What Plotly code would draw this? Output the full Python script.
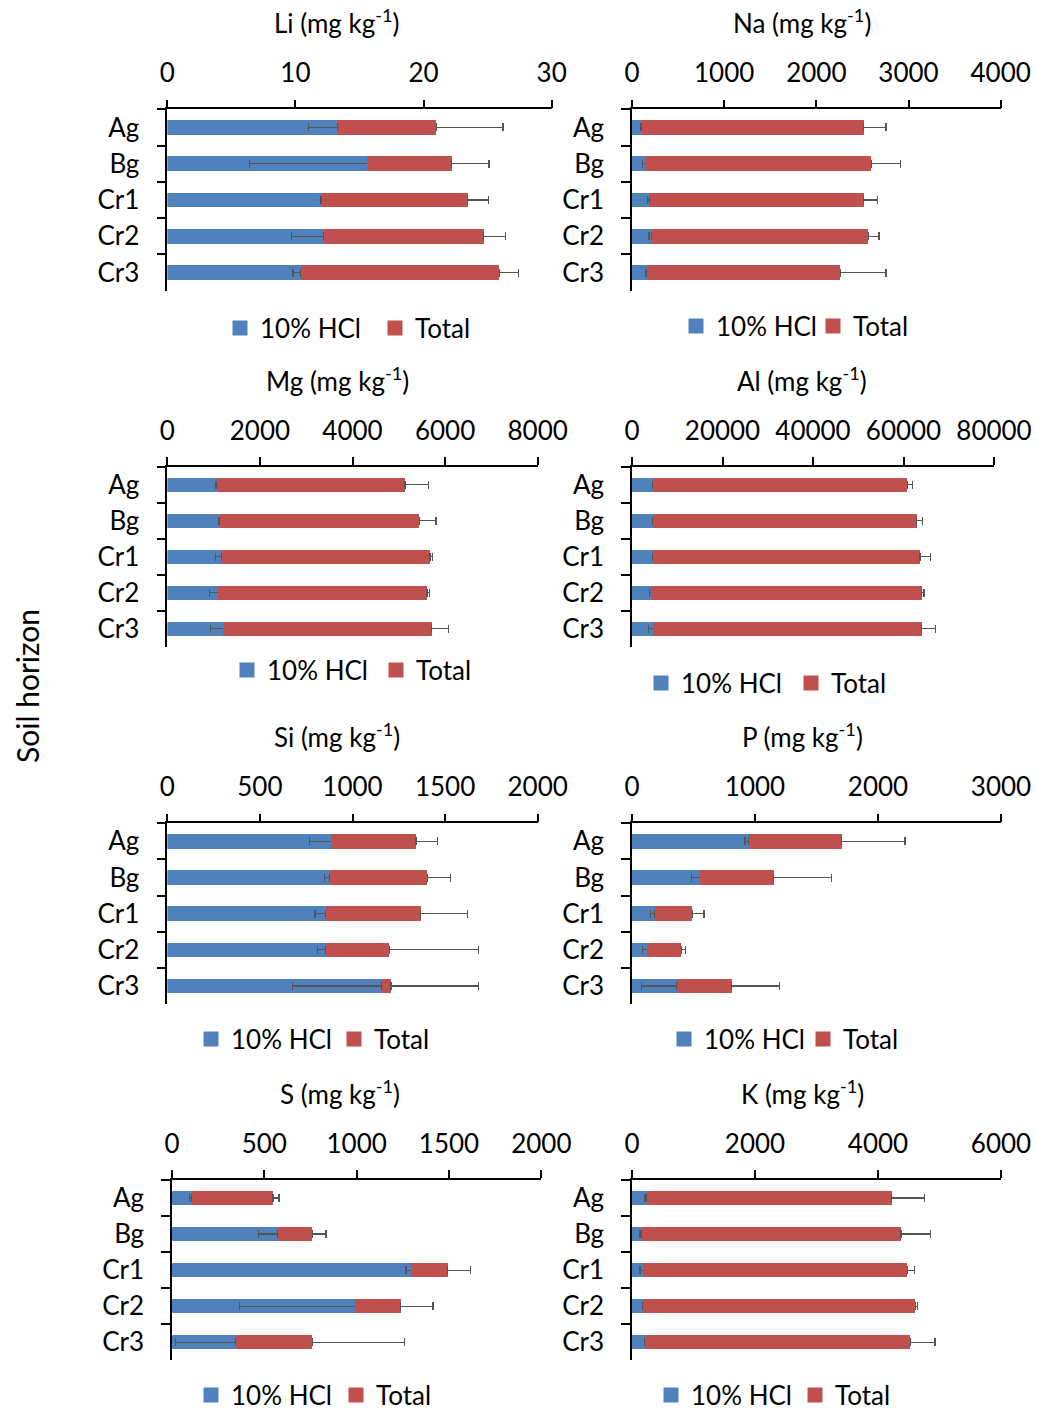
import plotly.graph_objects as go

horizons = ["Ag", "Bg", "Cr1", "Cr2", "Cr3"]

li_hcl = [13.3, 15.6, 12.05, 12.2, 10.4]
li_hcl_err = [2.3, 9.2, 0.1, 2.5, 0.6]
li_tot = [7.7, 6.6, 11.4, 12.5, 15.5]
li_tot_err = [5.2, 2.9, 1.6, 1.7, 1.5]

na_hcl = [108, 145, 195, 213, 159]
na_hcl_err = [10, 29, 25, 29, 7]
na_tot = [2405, 2452, 2318, 2351, 2101]
na_tot_err = [243, 318, 149, 116, 496]

mg_hcl = [1073, 1130, 1174, 1102, 1210]
mg_hcl_err = [29, 20, 130, 195, 274]
mg_tot = [4060, 4313, 4499, 4507, 4499]
mg_tot_err = [504, 360, 58, 50, 367]

al_hcl = [4715, 4715, 4715, 4273, 4715]
al_hcl_err = [221, 221, 221, 442, 1105]
al_tot = [56132, 58195, 58931, 59742, 59300]
al_tot_err = [1179, 1326, 2358, 515, 3020]

si_hcl = [886, 877, 855, 855, 1158]
si_hcl_err = [117, 29, 58, 43, 481]
si_tot = [457, 527, 513, 344, 50]
si_tot_err = [117, 124, 252, 481, 472]

p_hcl = [951, 556, 187, 125, 363]
p_hcl_err = [32, 71, 35, 38, 287]
p_tot = [754, 596, 304, 276, 447]
p_tot_err = [515, 471, 94, 33, 391]

s_hcl = [106, 574, 1296, 993, 345]
s_hcl_err = [12, 107, 29, 627, 327]
s_tot = [441, 186, 197, 245, 415]
s_tot_err = [32, 74, 123, 175, 500]

k_hcl = [244, 163, 184, 184, 217]
k_hcl_err = [33, 33, 54, 16, 11]
k_tot = [3978, 4211, 4293, 4423, 4309]
k_tot_err = [531, 477, 119, 38, 401]

elements = ["Li", "Na", "Mg", "Al", "Si", "P", "S", "K"]
hcl_vals = [li_hcl, na_hcl, mg_hcl, al_hcl, si_hcl, p_hcl, s_hcl, k_hcl]
hcl_errs = [li_hcl_err, na_hcl_err, mg_hcl_err, al_hcl_err, si_hcl_err, p_hcl_err, s_hcl_err, k_hcl_err]
tot_vals = [li_tot, na_tot, mg_tot, al_tot, si_tot, p_tot, s_tot, k_tot]
tot_errs = [li_tot_err, na_tot_err, mg_tot_err, al_tot_err, si_tot_err, p_tot_err, s_tot_err, k_tot_err]
axis_max = [30, 4000, 8000, 80000, 2000, 3000, 2000, 6000]
axis_dtick = [10, 1000, 2000, 20000, 500, 1000, 500, 2000]

W, H = 1037, 1411
FONT = "Lato"
FS = 26
BLUE = "#4F81BD"
RED = "#C0504D"
ERR = "#555555"

# plot areas in pixels: (x0, x1, y0, y1)
boxes = [
    (167.3, 551.7, 109.3, 290.7), (632, 1000.7, 109.3, 290.7),
    (167.3, 537.7, 466.7, 646.7), (632, 994, 466.7, 646.7),
    (167.3, 537.7, 823.3, 1004), (632, 1001, 823.3, 1004),
    (172, 541.3, 1180, 1360.3), (632, 1001, 1180, 1360.3),
]
title_pos = [(337, 22), (802, 22), (337, 380), (802, 380),
             (337, 736), (802, 736), (340, 1092), (802, 1092)]
legend_pos = [(232, 328), (688, 326), (239, 670), (653, 683),
              (203, 1039), (676, 1039), (203, 1395), (663, 1395)]
legend_step = [150, 132, 144, 145, 138, 134, 140, 139]

fig = go.Figure()
layout = dict(
    width=W, height=H, autosize=False,
    margin=dict(l=0, r=0, t=0, b=0, pad=0, autoexpand=False),
    paper_bgcolor="white", plot_bgcolor="white",
    barmode="stack", bargap=0.6,
    font=dict(family=FONT, size=FS, color="black"),
    annotations=[], showlegend=True,
)

for i, el in enumerate(elements):
    n = "" if i == 0 else str(i + 1)
    xa, ya = "x" + n, "y" + n
    lg = "legend" if i == 0 else "legend" + str(i + 1)
    fig.add_trace(go.Bar(
        y=horizons, x=hcl_vals[i], orientation="h", name="10% HCl",
        marker=dict(color=BLUE, line=dict(width=0)),
        error_x=dict(type="data", symmetric=False, array=[0] * 5,
                     arrayminus=hcl_errs[i], color=ERR, thickness=1.3, width=4),
        xaxis=xa, yaxis=ya, showlegend=False,
    ))
    fig.add_trace(go.Bar(
        y=horizons, x=tot_vals[i], orientation="h", name="Total",
        marker=dict(color=RED, line=dict(width=0)),
        error_x=dict(type="data", symmetric=False, array=tot_errs[i],
                     arrayminus=[0] * 5, color=ERR, thickness=1.3, width=4),
        xaxis=xa, yaxis=ya, showlegend=False,
    ))
    # legend-only entries with larger square swatches
    for nm, col in (("10% HCl", BLUE), ("Total", RED)):
        fig.add_trace(go.Scatter(
            x=[None], y=[None], mode="markers", name=nm,
            marker=dict(symbol="square", size=15, color=col),
            xaxis=xa, yaxis=ya, legend=lg, showlegend=True, hoverinfo="skip",
        ))
    x0, x1, y0, y1 = boxes[i]
    layout["xaxis" + n] = dict(
        domain=[x0 / W, x1 / W], anchor=ya, side="top", automargin=False,
        range=[0, axis_max[i]], dtick=axis_dtick[i], tick0=0, tickformat="d",
        showgrid=False, zeroline=False, showline=True, linecolor="black",
        linewidth=1.5, ticks="outside", ticklen=8, tickwidth=1.5,
        tickcolor="black", ticklabelstandoff=7,
        tickfont=dict(family=FONT, size=FS, color="black"),
    )
    layout["yaxis" + n] = dict(
        domain=[1 - y1 / H, 1 - y0 / H], anchor=xa, automargin=False,
        type="category", categoryorder="array", categoryarray=horizons,
        autorange="reversed", showgrid=False, zeroline=False,
        showline=True, linecolor="black", linewidth=1.5,
        ticks="outside", tickson="boundaries", ticklen=9, tickwidth=1.5,
        tickcolor="black", ticklabelstandoff=21,
        tickfont=dict(family=FONT, size=FS, color="black"),
    )
    tx, ty = title_pos[i]
    layout["annotations"].append(dict(
        text=f"{el} (mg kg<sup>-1</sup>)", x=tx / W, y=1 - ty / H,
        xref="paper", yref="paper", xanchor="center", yanchor="middle",
        showarrow=False, font=dict(family=FONT, size=FS, color="black"),
    ))
    lx, ly = legend_pos[i]
    layout[lg] = dict(
        x=(lx - 12) / W, y=1 - ly / H, xanchor="left", yanchor="middle",
        orientation="h", bgcolor="rgba(0,0,0,0)", borderwidth=0,
        font=dict(family=FONT, size=FS, color="black"),
        entrywidth=legend_step[i] - 40, entrywidthmode="pixels",
        traceorder="normal",
    )

layout["annotations"].append(dict(
    text="Soil horizon", x=27 / W, y=1 - 686 / H, xref="paper", yref="paper",
    xanchor="center", yanchor="middle", textangle=-90, showarrow=False,
    font=dict(family=FONT, size=30, color="black"),
))

fig.update_layout(**layout)
fig.write_html(
    "out.html",
    config={"displayModeBar": False},
    post_script="document.body.style.margin='0';document.body.style.padding='0';",
)
